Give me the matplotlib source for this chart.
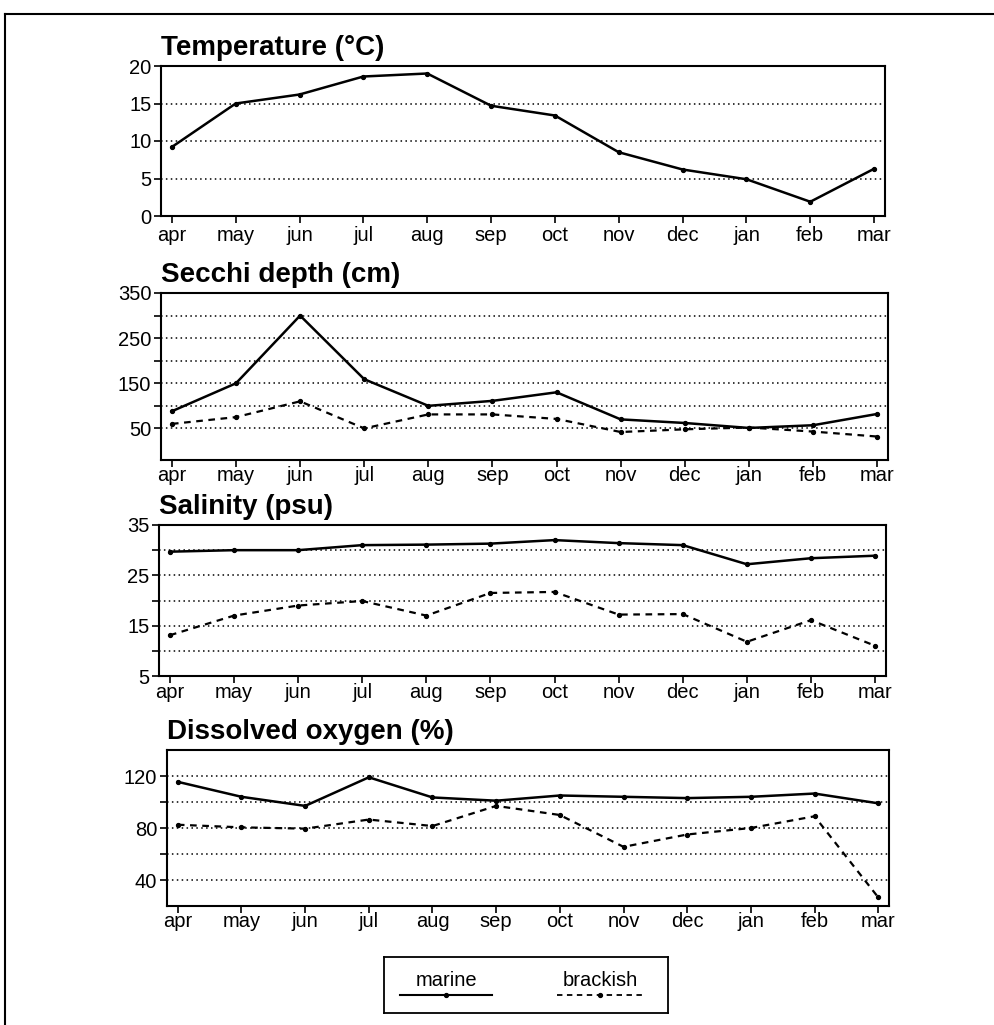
import numpy as np
import matplotlib
matplotlib.use('Agg')
import matplotlib.pyplot as plt
from matplotlib.lines import Line2D

plt.rcParams['font.family'] = ['Liberation Sans', 'DejaVu Sans']

months = ['apr', 'may', 'jun', 'jul', 'aug', 'sep', 'oct', 'nov', 'dec', 'jan', 'feb', 'mar']

# temperature (only marine)
temp_marine = [9.2, 15.0, 16.2, 18.6, 19.0, 14.7, 13.4, 8.5, 6.2, 4.9, 1.9, 6.3]

# secchi depth
secchi_marine = [88, 150, 300, 159, 100, 111, 130, 70, 62, 51, 57, 82]
secchi_brackish = [60, 75, 110, 50, 81, 81, 71, 42, 48, 52, 43, 32]

# salinity
sal_marine = [29.7, 30.0, 30.0, 31.0, 31.1, 31.3, 32.0, 31.4, 31.0, 27.2, 28.4, 28.9]
sal_brackish = [13.1, 17.0, 19.0, 19.9, 17.0, 21.5, 21.7, 17.2, 17.3, 11.8, 16.1, 11.0]

# dissolved oxygen
oxy_marine = [115.5, 104, 97, 119, 103.5, 101, 105, 104, 103, 104, 106.5, 99]
oxy_brackish = [82.5, 80.5, 79.5, 86.5, 81.5, 97, 90, 65.5, 75, 80, 89, 26.7]

W, H = 995, 1025
fig = plt.figure(figsize=(W / 100, H / 100), dpi=100)


def add_ax(left, top, right, bottom):
    return fig.add_axes([left / W, 1 - bottom / H, (right - left) / W, (bottom - top) / H])


panels = [
    dict(box=(161, 66, 885, 216), title='Temperature (°C)', ylim=(0, 20),
         ticks=[0, 5, 10, 15, 20], labels=['0', '5', '10', '15', '20'],
         grid=[5, 10, 15], marine=temp_marine, brackish=None, xpad=2),
    dict(box=(161, 293, 888, 460), title='Secchi depth (cm)', ylim=(-20, 350),
         ticks=[50, 100, 150, 200, 250, 300, 350],
         labels=['50', '', '150', '', '250', '', '350'],
         grid=[50, 100, 150, 200, 250, 300], marine=secchi_marine, brackish=secchi_brackish,
         xpad=-1),
    dict(box=(159, 525, 886, 676), title='Salinity (psu)', ylim=(5, 35),
         ticks=[5, 10, 15, 20, 25, 30, 35],
         labels=['5', '', '15', '', '25', '', '35'],
         grid=[10, 15, 20, 25, 30], marine=sal_marine, brackish=sal_brackish, xpad=0),
    dict(box=(167, 750, 889, 906), title='Dissolved oxygen (%)', ylim=(20, 140),
         ticks=[40, 60, 80, 100, 120], labels=['40', '', '80', '', '120'],
         grid=[40, 60, 80, 100, 120], marine=oxy_marine, brackish=oxy_brackish, xpad=-1),
]

x = np.arange(len(months))
for p in panels:
    ax = add_ax(*p['box'])
    for g in p['grid']:
        ax.axhline(g, color='black', linestyle=(0, (1, 2.2)), linewidth=1.1, zorder=1)
    ax.plot(x, p['marine'], color='black', linewidth=1.8, marker='o', markersize=2.8, zorder=3)
    if p['brackish'] is not None:
        ax.plot(x, p['brackish'], color='black', linewidth=1.6, linestyle=(0, (3, 2.5)),
                marker='o', markersize=2.8, zorder=3)
    ax.set_xlim(-0.17, 11.17)
    ax.set_ylim(*p['ylim'])
    ax.set_xticks(x)
    ax.set_xticklabels(months, fontsize=14.5)
    ax.set_yticks(p['ticks'])
    ax.set_yticklabels(p['labels'], fontsize=14.5)
    ax.tick_params(direction='out', length=5, width=1.2, pad=2, colors='black')
    ax.tick_params(axis='x', pad=p['xpad'])
    for s in ax.spines.values():
        s.set_linewidth(1.5)
    ax.set_title(p['title'], loc='left', fontsize=20, fontweight='bold', pad=8)

# legend box with labels above the line samples
lax = add_ax(384, 957, 668, 1013)
lax.set_xlim(0, 1)
lax.set_ylim(0, 1)
lax.set_xticks([])
lax.set_yticks([])
for s in lax.spines.values():
    s.set_linewidth(1.3)
lax.add_line(Line2D([0.055, 0.22, 0.38], [0.32, 0.32, 0.32], color='black', linewidth=1.5,
                    marker='o', markersize=2.8, markevery=[1], transform=lax.transAxes))
lax.add_line(Line2D([0.61, 0.76, 0.92], [0.32, 0.32, 0.32], color='black', linewidth=1.3,
                    linestyle=(0, (3, 2.5)), marker='o', markersize=2.8, markevery=[1],
                    transform=lax.transAxes))
lax.text(0.22, 0.58, 'marine', ha='center', va='center', fontsize=14.5)
lax.text(0.76, 0.58, 'brackish', ha='center', va='center', fontsize=14.5)

# outer frame (left and top edges)
fig.add_artist(Line2D([5 / W, 5 / W], [0, 1 - 14 / H], color='black', linewidth=1.5))
fig.add_artist(Line2D([5 / W, 1], [1 - 14 / H, 1 - 14 / H], color='black', linewidth=1.5))

fig.savefig('out.png', dpi=100)
